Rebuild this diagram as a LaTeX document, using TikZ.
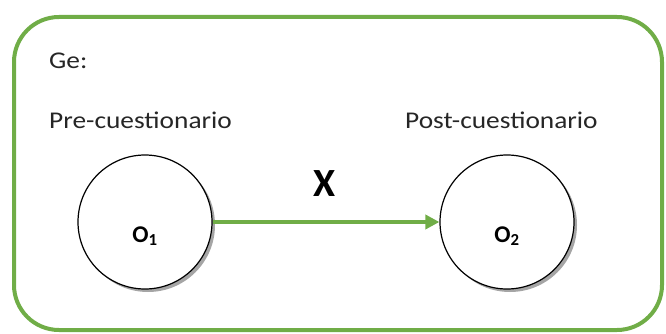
\documentclass[tikz,border=0pt]{standalone}
\usepackage{fontspec}
\setmainfont{Carlito}
\usetikzlibrary{shadows,arrows.meta}
\definecolor{frameg}{HTML}{70AD47}
\begin{document}
\begin{tikzpicture}[x=1pt,y=-1pt,
  lbl/.style={font=\fontsize{24}{28}\selectfont, inner sep=0pt, anchor=west, text=black!85},
  obs/.style={circle, draw=black, line width=1.2pt, fill=white, minimum size=134pt, inner sep=0pt,
    drop shadow={shadow xshift=3pt, shadow yshift=-3pt, fill=black!70, opacity=0.5}},
  olbl/.style={font=\bfseries\fontsize{24}{28}\selectfont, inner sep=0pt},
  flow/.style={frameg, line width=3.5pt, -{Triangle[length=14pt,width=14pt]}}]
\useasboundingbox (0,0) rectangle (666,334);
\draw[frameg, line width=4pt, rounded corners=45pt] (14,17) rectangle (662,330);
\node[lbl] (ge) at (49,61) {\scalebox{1.14}[1]{Ge:}};
\node[lbl] (pre) at (49,120) {\scalebox{1.14}[1]{Pre-cuestionario}};
\node[lbl] (post) at (405,120) {\scalebox{1.14}[1]{Post-cuestionario}};
\node[obs] (c1) at (145,222) {};
\node[obs] (c2) at (507,222) {};
\node[olbl] (o1) at ([yshift=-14pt]c1.center) {O\textsubscript{1}};
\node[olbl] (o2) at ([yshift=-14pt]c2.center) {O\textsubscript{2}};
\node[font=\bfseries\fontsize{40}{44}\selectfont, inner sep=0pt] (x) at (325,184) {X};
\draw[flow] (c1) -- (c2);
\end{tikzpicture}
\end{document}
